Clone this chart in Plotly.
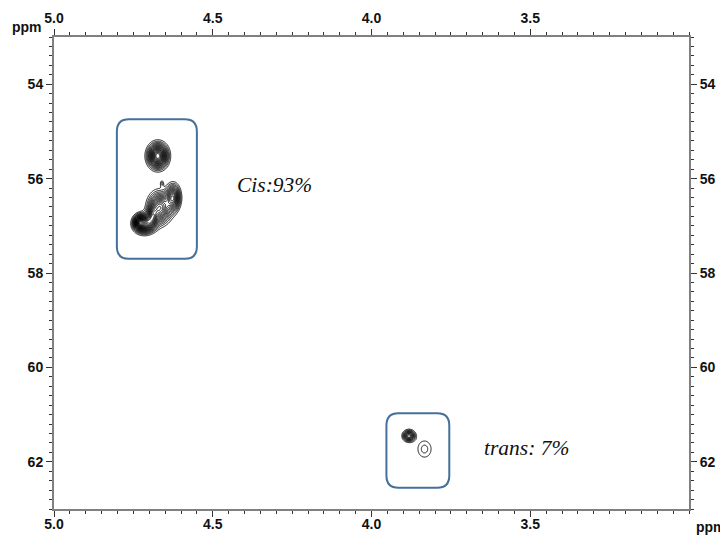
import numpy as np
import plotly.graph_objects as go

# ---- data ----
x_tickvals = [5.0, 4.5, 4.0, 3.5]
x_ticktext = ["5.0", "4.5", "4.0", "3.5"]
y_tickvals = [54, 56, 58, 60, 62]
y_ticktext = ["54", "56", "58", "60", "62"]

# cross peaks: (1H ppm, 13C ppm, width_H, width_C, amplitude)
cis_peak_h = [4.673, 4.715, 4.667, 4.625, 4.660, 4.732, 4.690]
cis_peak_c = [55.52, 56.96, 56.62, 56.40, 56.10, 56.92, 56.80]
cis_peak_wh = [0.019, 0.020, 0.022, 0.014, 0.004, 0.010, 0.010]
cis_peak_wc = [0.16, 0.12, 0.20, 0.17, 0.05, 0.09, 0.12]
cis_peak_amp = [10.0, 9.0, 8.0, 7.0, 1.4, 5.0, 4.0]

trans_peak_h = [3.882, 3.833]
trans_peak_c = [61.45, 61.73]
trans_peak_wh = [0.012, 0.020]
trans_peak_wc = [0.075, 0.165]
trans_peak_amp = [6.0, 1.7]

region_boxes = [  # (x0, x1, y0, y1) in ppm
    (4.550, 4.802, 54.74, 57.70),
    (3.755, 3.953, 60.97, 62.55),
]
region_labels = ["Cis:93%", "trans: 7%"]
label_x = [4.305, 3.513]
label_y = [56.14, 61.71]


def grid_peaks(xr, yr, hs, cs, whs, wcs, amps):
    gx = np.linspace(xr[0], xr[1], 140)
    gy = np.linspace(yr[0], yr[1], 200)
    X, Y = np.meshgrid(gx, gy)
    Z = np.zeros_like(X)
    for h, c, wh, wc, a in zip(hs, cs, whs, wcs, amps):
        Z += a * np.exp(-0.5 * (((X - h) / wh) ** 2 + ((Y - c) / wc) ** 2))
    return gx, gy, Z


fig = go.Figure()

cx, cy, cz = grid_peaks((4.80, 4.56), (54.9, 57.6), cis_peak_h, cis_peak_c,
                        cis_peak_wh, cis_peak_wc, cis_peak_amp)
tx, ty, tz = grid_peaks((3.94, 3.77), (61.1, 62.3), trans_peak_h, trans_peak_c,
                        trans_peak_wh, trans_peak_wc, trans_peak_amp)

for gx, gy, Z in [(cx, cy, cz), (tx, ty, tz)]:
    fig.add_trace(go.Contour(
        x=gx, y=gy, z=Z, showscale=False, hoverinfo="skip",
        contours=dict(coloring="none", start=1.0, end=12.0, size=0.5),
        line=dict(color="black", width=0.9),
    ))

# dummy trace for mirrored axes
fig.add_trace(go.Scatter(x=[4.0], y=[58.0], xaxis="x2", yaxis="y2",
                         mode="markers", marker=dict(opacity=0),
                         hoverinfo="skip", showlegend=False))

shapes = []
for (x0, x1, y0, y1) in region_boxes:
    rx, ry = 0.038, 0.26
    path = (f"M {x0+rx},{y0} L {x1-rx},{y0} Q {x1},{y0} {x1},{y0+ry} "
            f"L {x1},{y1-ry} Q {x1},{y1} {x1-rx},{y1} "
            f"L {x0+rx},{y1} Q {x0},{y1} {x0},{y1-ry} "
            f"L {x0},{y0+ry} Q {x0},{y0} {x0+rx},{y0} Z")
    shapes.append(dict(type="path", path=path, xref="x", yref="y",
                       line=dict(color="#44709a", width=2)))

annotations = []
for t, ax_, ay_ in zip(region_labels, label_x, label_y):
    annotations.append(dict(x=ax_, y=ay_, xref="x", yref="y", text=f"<i>{t}</i>",
                            showarrow=False,
                            font=dict(family="Liberation Serif", size=21.5, color="#111")))
annotations.append(dict(x=0, y=1, xref="paper", yref="paper", text="ppm",
                        showarrow=False, xanchor="right", yanchor="top", xshift=-10, yshift=20,
                        font=dict(family="Liberation Sans", size=14, color="#111", weight="bold")))
annotations.append(dict(x=1, y=0, xref="paper", yref="paper", text="ppm",
                        showarrow=False, xanchor="left", yanchor="top", xshift=5, yshift=-8,
                        font=dict(family="Liberation Sans", size=14, color="#111", weight="bold")))

tickfont = dict(family="Liberation Sans", size=14, color="#111", weight="bold")
common_x = dict(range=[5.0, 3.0], tickmode="array", tickvals=x_tickvals, ticktext=x_ticktext,
                ticks="outside", ticklen=6, tickwidth=1, tickcolor="#333", automargin=False,
                showline=True, linecolor="#808080", linewidth=2, showgrid=False, zeroline=False,
                tickfont=tickfont,
                minor=dict(ticks="outside", ticklen=3, tickcolor="#333", tick0=5.0, dtick=0.05,
                           showgrid=False))
common_y = dict(range=[63.0, 53.0], tickmode="array", tickvals=y_tickvals, ticktext=y_ticktext,
                ticks="outside", ticklen=6, tickwidth=1, tickcolor="#333", automargin=False,
                showline=True, linecolor="#808080", linewidth=2, showgrid=False, zeroline=False,
                tickfont=tickfont,
                minor=dict(ticks="outside", ticklen=3, tickcolor="#333", tick0=53.0, dtick=0.2,
                           showgrid=False))

fig.update_layout(
    width=720, height=527,
    margin=dict(l=46, r=39, t=29, b=26),
    paper_bgcolor="white", plot_bgcolor="white",
    showlegend=False,
    xaxis=dict(**common_x, side="bottom", ticklabelstandoff=-5),
    xaxis2=dict(**common_x, side="top", overlaying="x", matches="x"),
    yaxis=dict(**common_y, side="left"),
    yaxis2=dict(**common_y, side="right", overlaying="y", matches="y"),
    shapes=shapes, annotations=annotations,
)

fig.write_html("out.html")
